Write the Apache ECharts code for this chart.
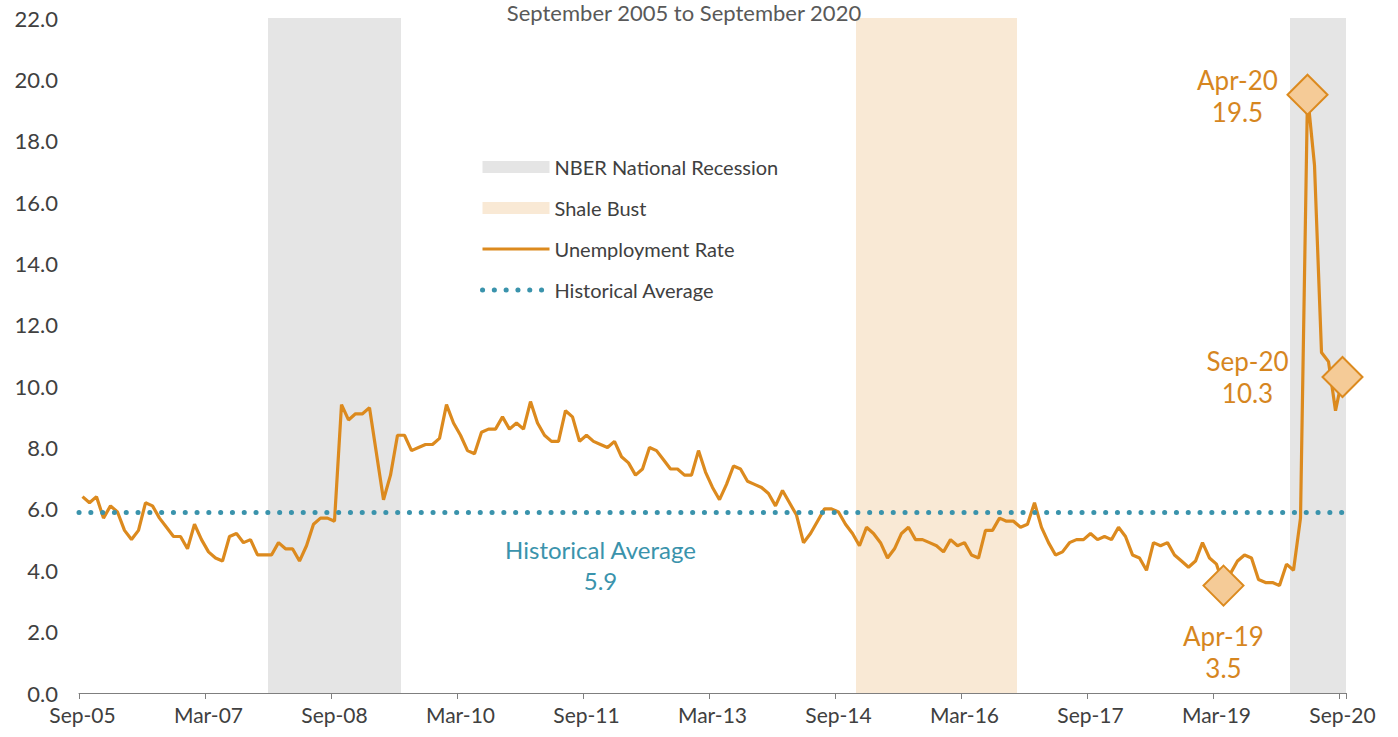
<!DOCTYPE html>
<html>
<head>
<meta charset="utf-8">
<script src="https://cdn.jsdelivr.net/npm/echarts@6/dist/echarts.min.js"></script>
<style>
  html, body { margin: 0; padding: 0; background: #ffffff; }
  #chart { width: 1398px; height: 737px; }
</style>
</head>
<body>
<div id="chart"></div>
<script>
// ---------- DATA ----------
const monthNames = ['Jan','Feb','Mar','Apr','May','Jun','Jul','Aug','Sep','Oct','Nov','Dec'];
// Monthly categories Sep-05 .. Sep-20
const categories = [];
for (let k = 0; k <= 180; k++) {
  const m = (8 + k) % 12;
  const yr = 5 + Math.floor((8 + k) / 12);
  categories.push(monthNames[m] + '-' + String(yr).padStart(2, '0'));
}

const unemploymentRate = [
  6.4, 6.2, 6.4, 5.7, 6.1, 5.9, 5.3, 5.0, 5.3, 6.2, 6.1, 5.7,
  5.4, 5.1, 5.1, 4.7, 5.5, 5.0, 4.6, 4.4, 4.3, 5.1, 5.2, 4.9,
  5.0, 4.5, 4.5, 4.5, 4.9, 4.7, 4.7, 4.3, 4.8, 5.5, 5.7, 5.7,
  5.6, 9.4, 8.9, 9.1, 9.1, 9.3, 7.8, 6.3, 7.1, 8.4, 8.4, 7.9,
  8.0, 8.1, 8.1, 8.3, 9.4, 8.8, 8.4, 7.9, 7.8, 8.5, 8.6, 8.6,
  9.0, 8.6, 8.8, 8.6, 9.5, 8.8, 8.4, 8.2, 8.2, 9.2, 9.0, 8.2,
  8.4, 8.2, 8.1, 8.0, 8.2, 7.7, 7.5, 7.1, 7.3, 8.0, 7.9, 7.6,
  7.3, 7.3, 7.1, 7.1, 7.9, 7.2, 6.7, 6.3, 6.8, 7.4, 7.3, 6.9,
  6.8, 6.7, 6.5, 6.1, 6.6, 6.2, 5.8, 4.9, 5.2, 5.6, 6.0, 6.0,
  5.9, 5.5, 5.2, 4.8, 5.4, 5.2, 4.9, 4.4, 4.7, 5.2, 5.4, 5.0,
  5.0, 4.9, 4.8, 4.6, 5.0, 4.8, 4.9, 4.5, 4.4, 5.3, 5.3, 5.7,
  5.6, 5.6, 5.4, 5.5, 6.2, 5.4, 4.9, 4.5, 4.6, 4.9, 5.0, 5.0,
  5.2, 5.0, 5.1, 5.0, 5.4, 5.1, 4.5, 4.4, 4.0, 4.9, 4.8, 4.9,
  4.5, 4.3, 4.1, 4.3, 4.9, 4.4, 4.2, 3.5, 3.9, 4.3, 4.5, 4.4,
  3.7, 3.6, 3.6, 3.5, 4.2, 4.0, 5.7, 19.5, 17.2, 11.1, 10.8, 9.2,
  10.3
];

const historicalAverage = 5.9;
const recessionPeriods = [['Dec-07', 'Jun-09'], ['Feb-20', 'Sep-20']];
const shaleBustPeriods = [['Dec-14', 'Oct-16']];
const highlightMonths = ['Apr-19', 'Apr-20', 'Sep-20'];
const averageLabelMonth = 'Nov-11';

const yMin = 0, yMax = 22, yInterval = 2;
const xLabelEvery = 18;

// ---------- STYLES ----------
const FONT = 'Lato';
const ORANGE = '#DC8A1E';
const ORANGE_TEXT = '#D6861F';
const TEAL = '#3A93AC';
const GRAY_BAND = '#E5E5E5';
const SHALE_BAND = '#F9E9D5';
const DIAMOND_FILL = '#F5CB97';
const AXIS_TEXT = '#404040';
const labelOffsets = { 'Apr-19': [0, 66], 'Apr-20': [-70, 1], 'Sep-20': [-95, 0] };
const dottedStyle = { color: TEAL, width: 5, type: [0.1, 11.7], cap: 'round' };
const orangeLine = { color: ORANGE, width: 3.2 };

function periodsToAreas(periods) {
  return periods.map(p => [
    { xAxis: categories.indexOf(p[0]) },
    { xAxis: categories.indexOf(p[1]) + 1 }
  ]);
}

const chart = echarts.init(document.getElementById('chart'), null, { renderer: 'svg' });

const option = {
  animation: false,
  backgroundColor: '#ffffff',
  textStyle: { fontFamily: FONT },
  title: {
    text: 'September 2005 to September 2020',
    left: 684,
    textAlign: 'center',
    top: 1,
    padding: 0,
    textStyle: { fontFamily: FONT, fontSize: 22, fontWeight: 'normal', color: '#595959' }
  },
  grid: { left: 79, right: 52, top: 18, bottom: 44, containLabel: false },
  legend: {
    orient: 'vertical',
    left: 480,
    top: 157,
    padding: 0,
    itemWidth: 67,
    itemHeight: 12,
    itemGap: 21,
    textStyle: { fontFamily: FONT, fontSize: 20, color: AXIS_TEXT, lineHeight: 20 },
    selectedMode: false,
    data: [
      { name: 'NBER National Recession', icon: 'rect', itemStyle: { color: GRAY_BAND } },
      { name: 'Shale Bust', icon: 'rect', itemStyle: { color: SHALE_BAND } },
      { name: 'Unemployment Rate', itemStyle: { opacity: 0 }, lineStyle: orangeLine },
      { name: 'Historical Average', itemStyle: { opacity: 0 }, lineStyle: dottedStyle }
    ]
  },
  xAxis: [
    {
      type: 'category',
      data: categories,
      boundaryGap: true,
      axisLine: { show: true, lineStyle: { color: '#7F7F7F', width: 1 } },
      axisTick: {
        show: true,
        length: 6,
        lineStyle: { color: '#7F7F7F' },
        interval: (idx) => idx % xLabelEvery === 0
      },
      axisLabel: {
        interval: (idx) => idx % xLabelEvery === 0,
        margin: 11,
        color: AXIS_TEXT,
        fontFamily: FONT,
        fontSize: 21
      },
      splitLine: { show: false }
    },
    {
      type: 'value',
      min: 0,
      max: categories.length,
      show: false
    }
  ],
  yAxis: {
    type: 'value',
    min: yMin,
    max: yMax,
    interval: yInterval,
    axisLine: { show: false },
    axisTick: { show: false },
    splitLine: { show: false },
    axisLabel: {
      margin: 21,
      color: AXIS_TEXT,
      fontFamily: FONT,
      fontSize: 22,
      formatter: (v) => v.toFixed(1)
    }
  },
  series: [
    {
      name: 'NBER National Recession',
      type: 'line',
      xAxisIndex: 1,
      data: [],
      symbol: 'none',
      color: GRAY_BAND,
      z: 1,
      markArea: {
        silent: true,
        itemStyle: { color: GRAY_BAND },
        data: periodsToAreas(recessionPeriods)
      }
    },
    {
      name: 'Shale Bust',
      type: 'line',
      xAxisIndex: 1,
      data: [],
      symbol: 'none',
      color: SHALE_BAND,
      z: 1,
      markArea: {
        silent: true,
        itemStyle: { color: SHALE_BAND },
        data: periodsToAreas(shaleBustPeriods)
      }
    },
    {
      name: 'Historical Average',
      type: 'line',
      xAxisIndex: 1,
      data: [],
      symbol: 'none',
      color: TEAL,
      z: 3,
      lineStyle: dottedStyle,
      markLine: {
        silent: true,
        symbol: ['none', 'none'],
        label: { show: false },
        lineStyle: dottedStyle,
        data: [{ yAxis: historicalAverage }]
      },
      markPoint: {
        silent: true,
        symbol: 'circle',
        symbolSize: 1,
        itemStyle: { color: 'rgba(0,0,0,0)' },
        data: [{
          coord: [categories.indexOf(averageLabelMonth) + 0.5, historicalAverage],
          value: historicalAverage,
          label: {
            show: true,
            position: 'inside',
            offset: [0, 53],
            align: 'center',
            verticalAlign: 'middle',
            formatter: 'Historical Average\n' + historicalAverage.toFixed(1),
            color: TEAL,
            fontFamily: FONT,
            fontSize: 24,
            lineHeight: 31
          }
        }]
      }
    },
    {
      name: 'Unemployment Rate',
      type: 'line',
      data: unemploymentRate,
      symbol: 'none',
      showSymbol: false,
      color: ORANGE,
      z: 4,
      lineStyle: orangeLine,
      markPoint: {
        silent: true,
        symbol: 'diamond',
        symbolSize: 40,
        itemStyle: { color: DIAMOND_FILL, borderColor: ORANGE, borderWidth: 2 },
        data: highlightMonths.map(m => {
          const v = unemploymentRate[categories.indexOf(m)];
          return {
            coord: [m, v],
            value: v,
            label: {
              show: true,
              position: 'inside',
              offset: labelOffsets[m],
              align: 'center',
              verticalAlign: 'middle',
              formatter: m + '\n' + v.toFixed(1),
              color: ORANGE_TEXT,
              fontFamily: FONT,
              fontSize: 26,
              lineHeight: 32
            }
          };
        })
      }
    }
  ]
};

chart.setOption(option);
</script>
</body>
</html>
